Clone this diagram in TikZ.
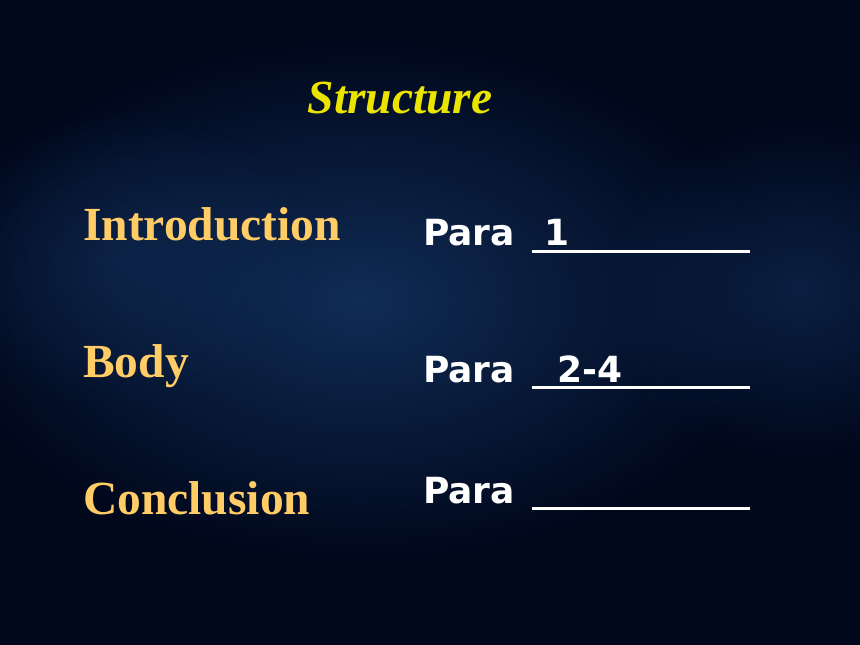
\documentclass[tikz,border=0pt]{standalone}
\usepackage{fontspec}
\usetikzlibrary{fadings}
\setmainfont{Liberation Serif}
\newfontfamily\parafont{DejaVu Sans}
\definecolor{bgdark}{RGB}{1,8,28}
\definecolor{bgblue}{RGB}{18,48,92}
\definecolor{titleyellow}{RGB}{235,228,0}
\definecolor{labelorange}{RGB}{255,204,102}
\tikzfading[name=glowfade, inner color=transparent!0, outer color=transparent!100]
\tikzset{
  labeltext/.style={anchor=base west, inner sep=0pt, text=labelorange, font=\fontsize{47.5}{50}\selectfont\bfseries},
  paratext/.style={anchor=base west, inner sep=0pt, text=white, font=\parafont\fontsize{36}{40}\selectfont\bfseries},
  answer/.style={anchor=base, inner sep=0pt, text=white, font=\parafont\fontsize{36}{40}\selectfont\bfseries},
  blank/.style={white, line width=3pt},
  glow/.style={fill=bgblue, path fading=glowfade}
}
\begin{document}
\begin{tikzpicture}[x=1pt,y=-1pt]
\fill[bgdark] (0,0) rectangle (860,645);
\useasboundingbox (0,0) rectangle (860,645);
\fill[glow, fill opacity=0.9] (360,300) ellipse [x radius=420, y radius=260];
\fill[glow, fill opacity=0.6] (800,290) ellipse [x radius=200, y radius=170];
\fill[glow, fill opacity=0.5] (130,260) ellipse [x radius=200, y radius=150];
\node[anchor=base, inner sep=0pt, text=titleyellow, font=\fontsize{47.5}{50}\selectfont\bfseries\itshape] (title) at (400,113) {Structure};
\node[labeltext] (intro) at (83,240) {Introduction};
\node[labeltext] (body) at (83,377) {Body};
\node[labeltext] (concl) at (83,514) {Conclusion};
\node[paratext] (p1) at (423,245) {Para};
\node[paratext] (p2) at (423,382) {Para};
\node[paratext] (p3) at (423,503) {Para};
\node[answer] (a1) at (557,245) {1};
\node[answer] (a2) at (590,382) {2-4};
\coordinate (l1a) at (532,251); \coordinate (l1b) at (750,251);
\coordinate (l2a) at (532,387); \coordinate (l2b) at (750,387);
\coordinate (l3a) at (532,508); \coordinate (l3b) at (750,508);
\draw[blank] (l1a) -- (l1b);
\draw[blank] (l2a) -- (l2b);
\draw[blank] (l3a) -- (l3b);
\end{tikzpicture}
\end{document}
